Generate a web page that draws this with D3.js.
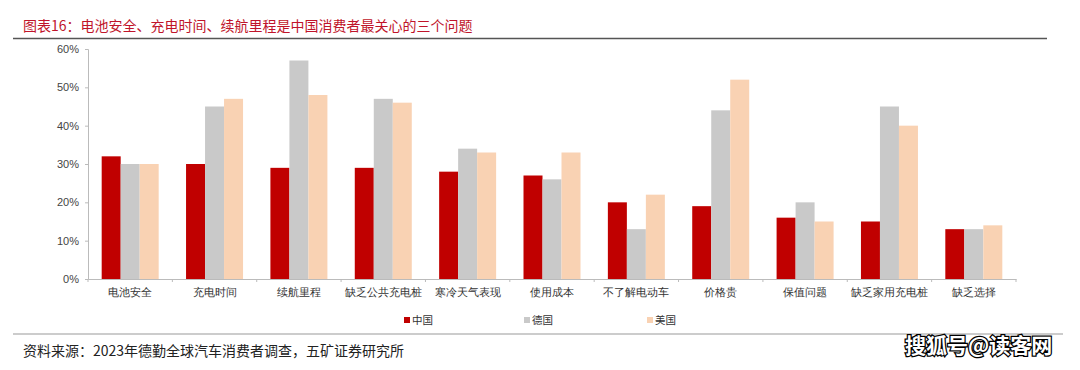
<!DOCTYPE html>
<html><head><meta charset="utf-8">
<script src="https://cdn.jsdelivr.net/npm/d3@7"></script>
<style>
html,body{margin:0;padding:0;background:#fff;}
svg{display:block;font-family:"Noto Sans CJK SC","Noto Sans",sans-serif;}
</style></head>
<body>
<svg id="c" width="1080" height="370"></svg>
<script>
const categories = ["电池安全","充电时间","续航里程","缺乏公共充电桩","寒冷天气表现","使用成本","不了解电动车","价格贵","保值问题","缺乏家用充电桩","缺乏选择"];
const seriesNames = ["中国","德国","美国"];
const china   = [32,30,29,29,28,27,20,19,16,15,13];
const germany = [30,45,57,47,34,26,13,44,20,45,13];
const usa     = [30,47,48,46,33,33,22,52,15,40,14];
const yTicks = [0,10,20,30,40,50,60];
const colors = ["#c00000","#c9c9c9","#f9d2b3"];
const titleText = "图表16：电池安全、充电时间、续航里程是中国消费者最关心的三个问题";
const sourceText = "资料来源：2023年德勤全球汽车消费者调查，五矿证券研究所";
const watermark = "搜狐号@读客网";

const svg = d3.select("#c");
const series = [china, germany, usa];

// title
svg.append("text").attr("x",23).attr("y",31).attr("fill","#c0142a")
  .attr("font-size",14).text(titleText);
svg.append("line").attr("x1",13).attr("x2",1047).attr("y1",38.5).attr("y2",38.5)
  .attr("stroke","#555").attr("stroke-width",1.3);

const pL=88, pR=1016, pT=49, pB=279;
const x = d3.scaleBand().domain(categories).range([pL,pR]).paddingInner(0).paddingOuter(0);
const y = d3.scaleLinear().domain([0,60]).range([pB,pT]);
const groupW = 57;
const x1 = d3.scaleBand().domain(seriesNames).range([0,groupW]).padding(0);

// bars
const g = svg.append("g");
series.forEach((vals,si)=>{
  g.selectAll(".b"+si).data(vals).enter().append("rect")
    .attr("x",(d,i)=>x(categories[i]) + (x.bandwidth()-groupW)/2 + x1(seriesNames[si]))
    .attr("y",d=>y(d))
    .attr("width",x1.bandwidth())
    .attr("height",d=>pB-y(d))
    .attr("fill",colors[si]);
});

// y axis
const ya = svg.append("g").attr("transform",`translate(${pL},0)`)
  .call(d3.axisLeft(y).tickValues(yTicks).tickFormat(d=>d+"%").tickSize(3).tickPadding(6));
ya.select(".domain").attr("stroke","#bbb");
ya.selectAll(".tick line").attr("stroke","#bbb");
ya.selectAll("text").attr("font-size",11).attr("fill","#444").attr("font-family","Arial,'Liberation Sans',sans-serif");

// x axis
const xa = svg.append("g").attr("transform",`translate(0,${pB})`)
  .call(d3.axisBottom(x).tickSize(0).tickPadding(10));
xa.select(".domain").attr("stroke","#bbb");
xa.selectAll("text").attr("font-size",10.5).attr("fill","#333");
// boundary ticks
const bounds = categories.map(c=>x(c)).concat([pR]);
svg.append("g").selectAll("line").data(bounds).enter().append("line")
  .attr("x1",d=>d).attr("x2",d=>d).attr("y1",pB).attr("y2",pB+3)
  .attr("stroke","#bbb");

// legend
const legX = [404,524,647];
const lg = svg.append("g");
seriesNames.forEach((n,i)=>{
  lg.append("rect").attr("x",legX[i]).attr("y",317).attr("width",6).attr("height",6).attr("fill",colors[i]);
  lg.append("text").attr("x",legX[i]+8).attr("y",324).attr("font-size",10.5).attr("fill","#333").text(n);
});
svg.append("line").attr("x1",13).attr("x2",1063).attr("y1",334).attr("y2",334)
  .attr("stroke","#999").attr("stroke-width",1.2);

// source
svg.append("text").attr("x",23).attr("y",356).attr("font-size",14).attr("fill","#222").text(sourceText);

// watermark
svg.append("text").attr("x",905).attr("y",353).attr("font-size",21).attr("font-weight","bold")
  .attr("fill","#fff").attr("stroke","#000").attr("stroke-width",2.5).attr("paint-order","stroke")
  .text(watermark);
</script>
</body></html>
